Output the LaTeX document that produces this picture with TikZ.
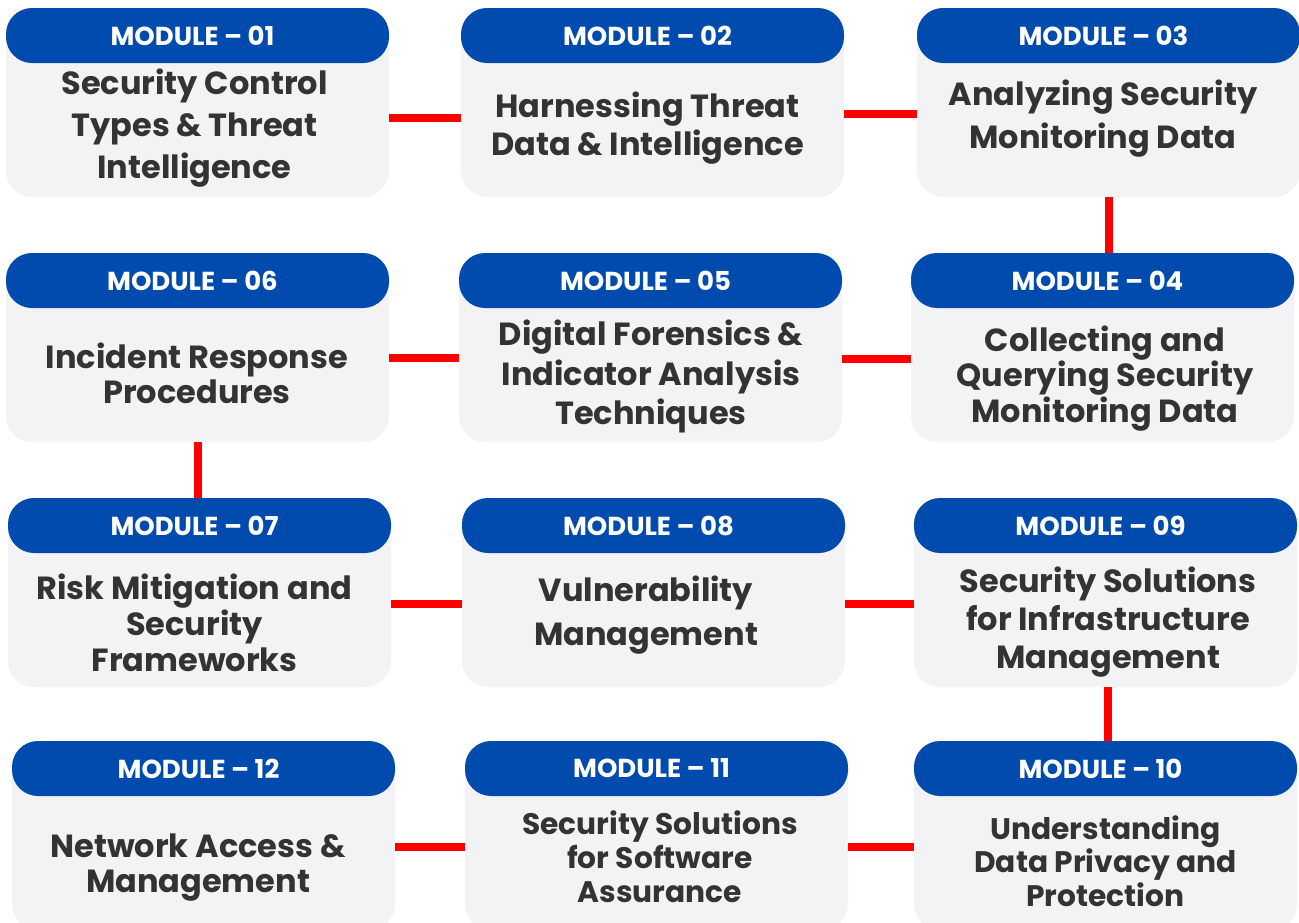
\documentclass[tikz,border=0pt]{standalone}
\usepackage{fontspec}
\setmainfont{Poppins}
\usepackage{tikz}

\definecolor{modblue}{HTML}{004BAD}
\definecolor{cardgray}{HTML}{F3F2F5}
\definecolor{textgray}{HTML}{333333}
\definecolor{linkred}{HTML}{FF0000}

\tikzset{
	card/.style = {fill = cardgray, rounded corners = 26pt, minimum width = 383pt, minimum height = 189pt, inner sep = 0pt},
	cardhead/.style = {fill = modblue, rounded corners = 26pt, minimum width = 383pt, minimum height = 55pt, inner sep = 0pt, text = white, font = \fontsize{26}{30}\selectfont\bfseries},
	cardtext/.style = {text = textgray, align = center, inner sep = 0pt},
	link/.style = {draw = linkred, line width = 8pt}
}

\begin{document}
\begin{tikzpicture}[x = 1pt, y = -1pt]
	\useasboundingbox (0,0) rectangle (1299,922);
	\foreach \id/\cx/\cy/\tx/\ty/\fs/\lsk/\ttl in {
			01/197.5/102.5/194.5/128/32/42/{Security Control\\Types \& Threat\\Intelligence},
			02/652.5/102.5/647.5/128/32/38/{Harnessing Threat\\Data \& Intelligence},
			03/1108.5/102.5/1103/119/32/43/{Analyzing Security\\Monitoring Data},
			04/1102.5/347.5/1105/378.5/32/35.5/{Collecting and\\Querying Security\\Monitoring Data},
			05/650.5/347.5/651/376.5/32/39.5/{Digital Forensics \&\\Indicator Analysis\\Techniques},
			06/197.5/347.5/197/373/32/35/{Incident Response\\Procedures},
			07/199.5/592.5/194.5/623/32/36/{Risk Mitigation and\\Security\\Frameworks},
			08/653.5/592.5/646/615/32/44/{Vulnerability\\Management},
			09/1105.5/592.5/1108/622/32/38/{Security Solutions\\for Infrastructure\\Management},
			10/1105.5/835.5/1105.5/861/29.7/33.5/{Understanding\\Data Privacy and\\Protection},
			11/656.5/835.5/660/857/29.7/34/{Security Solutions\\for Software\\Assurance},
			12/203.5/835.5/198/867.5/32/35/{Network Access \&\\Management}}
	{
		\node[card] (m\id) at (\cx,\cy) {};
		\node[cardhead, anchor = north] (h\id) at (m\id.north) {MODULE -- \id\kern10pt};
		\node[cardtext, font = \fontsize{\fs}{\lsk}\selectfont\bfseries] (t\id) at (\tx,\ty) {\ttl};
	}

	\draw[link] ([yshift = -15pt]m01.east) -- ([yshift = -15pt]m02.west);
	\draw[link] ([yshift = -11pt]m02.east) -- ([yshift = -11pt]m03.west);
	\draw[link] (m03.south) -- (m03.south |- m04.north);
	\draw[link] ([yshift = -11.5pt]m04.west) -- ([yshift = -11.5pt]m05.east);
	\draw[link] ([yshift = -10.5pt]m05.west) -- ([yshift = -10.5pt]m06.east);
	\draw[link] (m06.south) -- (m06.south |- m07.north);
	\draw[link] ([yshift = -11.5pt]m07.east) -- ([yshift = -11.5pt]m08.west);
	\draw[link] ([yshift = -11.5pt]m08.east) -- ([yshift = -11.5pt]m09.west);
	\draw[link] ([xshift = 2.5pt]m09.south) -- ([xshift = 2.5pt]m09.south |- m10.north);
	\draw[link] ([yshift = -11.5pt]m10.west) -- ([yshift = -11.5pt]m11.east);
	\draw[link] ([yshift = -11.5pt]m11.west) -- ([yshift = -11.5pt]m12.east);
\end{tikzpicture}
\end{document}
